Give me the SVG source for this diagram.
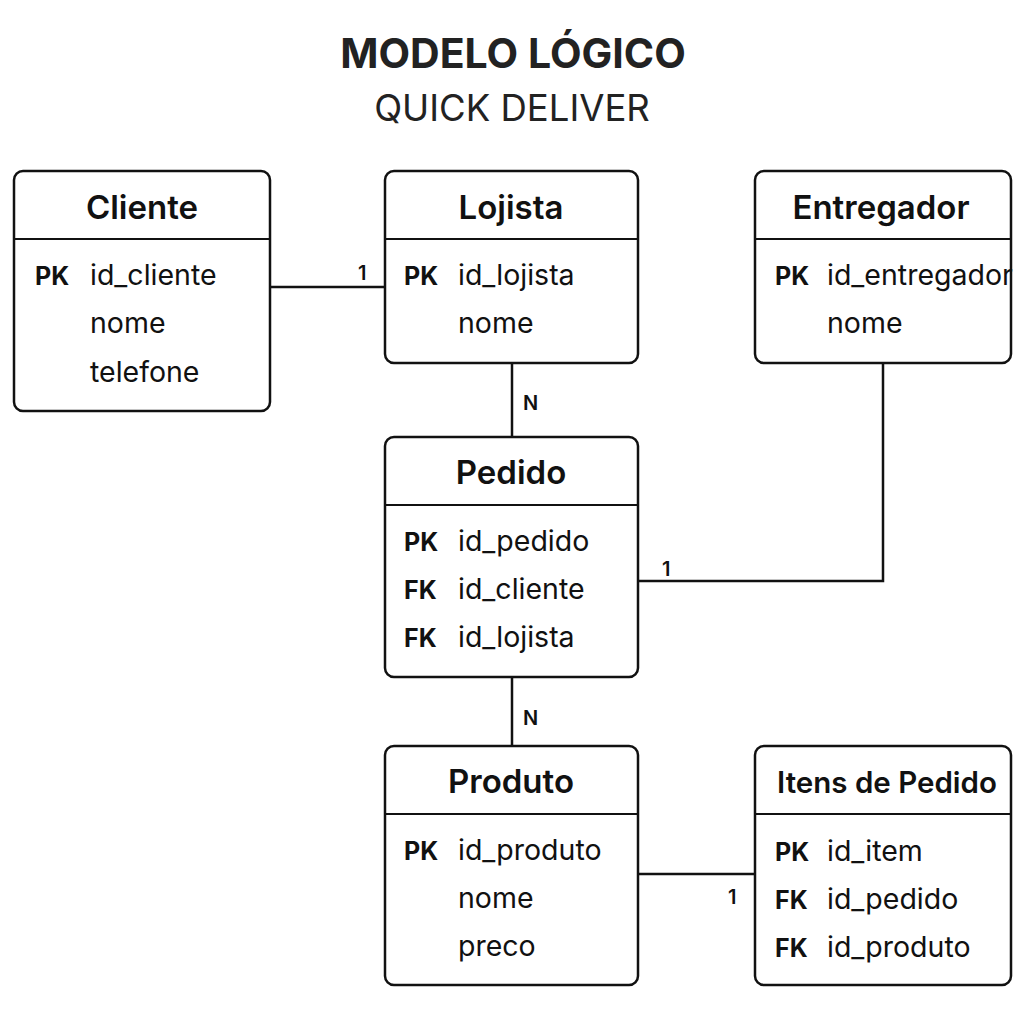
<svg xmlns="http://www.w3.org/2000/svg" width="1024" height="1024" viewBox="0 0 1024 1024">
<style>
.box{fill:#fff;stroke:#111;stroke-width:2.5}
.div{stroke:#111;stroke-width:2}
.hdr{font-family:Inter,"Liberation Sans",sans-serif;font-size:33px;font-weight:600;fill:#111;text-anchor:middle}
.key{font-family:Inter,"Liberation Sans",sans-serif;font-size:25px;font-weight:700;fill:#111}
.att{font-family:Inter,"Liberation Sans",sans-serif;font-size:28.5px;font-weight:400;fill:#111}
.lbl{font-family:Inter,"Liberation Sans",sans-serif;font-size:20px;font-weight:600;fill:#111}
.con{fill:none;stroke:#111;stroke-width:2.5}
</style>
<rect width="1024" height="1024" fill="#fff"/>
<text x="513" y="68" text-anchor="middle" font-family="Inter,'Liberation Sans',sans-serif" font-size="41" font-weight="700" fill="#222">MODELO LÓGICO</text>
<text x="512" y="121" text-anchor="middle" font-family="Inter,'Liberation Sans',sans-serif" font-size="36.5" font-weight="400" fill="#222">QUICK DELIVER</text>

<g id="connectors">
<path class="con" d="M270 287H385"/>
<path class="con" d="M512 363V437"/>
<path class="con" d="M883 363V581H638"/>
<path class="con" d="M512 677V746"/>
<path class="con" d="M638 874H755"/>
<text class="lbl" x="358" y="280">1</text>
<text class="lbl" x="523" y="410">N</text>
<text class="lbl" x="662" y="576">1</text>
<text class="lbl" x="523" y="725">N</text>
<text class="lbl" x="728" y="904">1</text>
</g>

<g id="cliente">
<rect class="box" x="14" y="171" width="256" height="240" rx="9"/>
<line class="div" x1="14" y1="239" x2="270" y2="239"/>
<text class="hdr" x="142" y="219">Cliente</text>
<text class="key" x="35" y="285">PK</text>
<text class="att" x="90" y="285">id_cliente</text>
<text class="att" x="90" y="333">nome</text>
<text class="att" x="90" y="382">telefone</text>
</g>

<g id="lojista">
<rect class="box" x="385" y="171" width="253" height="192" rx="9"/>
<line class="div" x1="385" y1="239" x2="638" y2="239"/>
<text class="hdr" x="511" y="219">Lojista</text>
<text class="key" x="404" y="285">PK</text>
<text class="att" x="458" y="285">id_lojista</text>
<text class="att" x="458" y="333">nome</text>
</g>

<g id="entregador">
<rect class="box" x="755" y="171" width="256" height="192" rx="9"/>
<line class="div" x1="755" y1="239" x2="1011" y2="239"/>
<text class="hdr" x="881" y="219">Entregador</text>
<text class="key" x="775" y="285">PK</text>
<text class="att" x="827" y="285">id_entregador</text>
<text class="att" x="827" y="333">nome</text>
</g>

<g id="pedido">
<rect class="box" x="385" y="437" width="253" height="240" rx="9"/>
<line class="div" x1="385" y1="505" x2="638" y2="505"/>
<text class="hdr" x="511" y="484">Pedido</text>
<text class="key" x="404" y="551">PK</text>
<text class="att" x="458" y="551">id_pedido</text>
<text class="key" x="404" y="599">FK</text>
<text class="att" x="458" y="599">id_cliente</text>
<text class="key" x="404" y="647">FK</text>
<text class="att" x="458" y="647">id_lojista</text>
</g>

<g id="produto">
<rect class="box" x="385" y="746" width="253" height="239" rx="9"/>
<line class="div" x1="385" y1="814" x2="638" y2="814"/>
<text class="hdr" x="511" y="793">Produto</text>
<text class="key" x="404" y="860">PK</text>
<text class="att" x="458" y="860">id_produto</text>
<text class="att" x="458" y="908">nome</text>
<text class="att" x="458" y="956">preco</text>
</g>

<g id="itens">
<rect class="box" x="755" y="746" width="256" height="239" rx="9"/>
<line class="div" x1="755" y1="814" x2="1011" y2="814"/>
<text class="hdr" x="887" y="793" style="font-size:29.5px">Itens de Pedido</text>
<text class="key" x="775" y="861">PK</text>
<text class="att" x="827" y="861">id_item</text>
<text class="key" x="775" y="909">FK</text>
<text class="att" x="827" y="909">id_pedido</text>
<text class="key" x="775" y="957">FK</text>
<text class="att" x="827" y="957">id_produto</text>
</g>
</svg>
